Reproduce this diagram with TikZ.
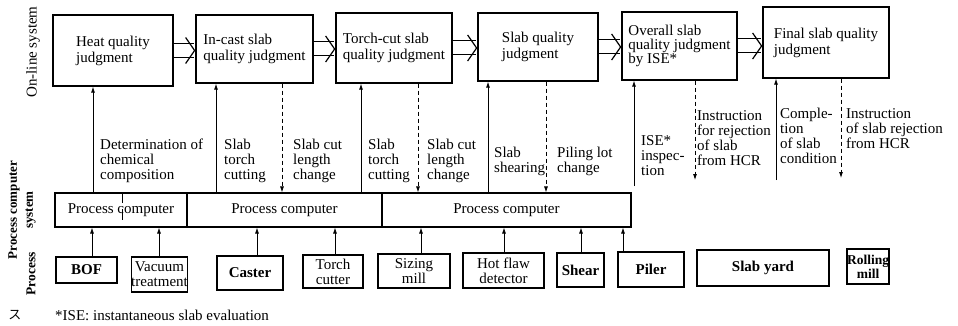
\documentclass[tikz,border=0pt]{standalone}
\usepackage{fontspec}
\setmainfont{Liberation Serif}
\newfontfamily\jpfont{Noto Sans CJK JP}
\usetikzlibrary{arrows.meta}

\begin{document}
\begin{tikzpicture}[x=1pt, y=-1pt, font=\fontsize{15}{15}\selectfont,
  judge/.style={draw, line width=1.3pt, align=left, inner sep=0pt, font=\fontsize{15}{16}\selectfont},
  pc/.style={draw, line width=1.1pt, minimum height=34pt, inner sep=0pt},
  proc/.style={draw, line width=1.2pt, align=center, inner sep=0pt, font=\fontsize{15}{15}\selectfont},
  bproc/.style={proc, font=\bfseries\fontsize{15}{15}\selectfont},
  up/.style={-{Latex[length=6pt,width=4pt]}, line width=0.8pt},
  down/.style={up, dash pattern=on 4pt off 3pt},
  flow/.style={double, double distance=13pt, line width=1pt, -{Straight Barb[length=9pt, width=26pt, line width=1.2pt]}},
  lbl/.style={anchor=north west, align=left, inner sep=0pt}]
  \useasboundingbox (0,0) rectangle (958,326);

  \node[judge, minimum width=120pt, minimum height=71pt] (hq) at (113,50.5) {Heat quality\\judgment};
  \node[judge, minimum width=117pt, minimum height=68pt] (ic) at (254.5,49) {In-cast slab\\quality judgment};
  \node[judge, minimum width=116pt, minimum height=70pt] (tcq) at (394,48) {Torch-cut slab\\quality judgment};
  \node[judge, minimum width=120pt, minimum height=68pt] (sq) at (538,47) {Slab quality\\judgment};
  \node[judge, minimum width=115pt, minimum height=68pt, font=\fontsize{15}{14}\selectfont] (ise) at (679.5,46) {Overall slab\\quality judgment\\by ISE*};
  \node[judge, minimum width=126pt, minimum height=71pt] (fq) at (826,42.5) {Final slab quality\\judgment};

  \foreach \a/\b in {hq/ic, ic/tcq, tcq/sq, sq/ise, ise/fq}
    \draw[flow] (\a.east) -- (\a.east -| \b.west);

  \node[pc, minimum width=132pt] (pc1) at (121,210) {Process computer};
  \node[pc, minimum width=195pt] (pc2) at (284.5,210) {Process computer};
  \node[pc, minimum width=249pt] (pc3) at (506.5,210) {Process computer};
  \draw[line width=0.8pt, dash pattern=on 11pt off 6pt] (pc1.north -| 122,0) -- (pc1.south -| 122,0);

  \node[bproc, minimum width=61pt, minimum height=26pt] (bof) at (86.5,270) {BOF};
  \node[proc, minimum width=55pt, minimum height=35pt] (vac) at (159.5,274.5) {Vacuum\\treatment};
  \node[bproc, minimum width=66pt, minimum height=34pt] (cas) at (250,273) {Caster};
  \node[proc, minimum width=60pt, minimum height=33pt] (tc) at (333,271.5) {Torch\\cutter};
  \node[proc, minimum width=72pt, minimum height=34pt] (sm) at (414,271) {Sizing\\mill};
  \node[proc, minimum width=81pt, minimum height=35pt] (hfd) at (503.5,270.5) {Hot flaw\\detector};
  \node[bproc, minimum width=47pt, minimum height=34pt] (sh) at (580.5,270) {Shear};
  \node[bproc, minimum width=66pt, minimum height=35pt] (pil) at (651,269.5) {Piler};
  \node[bproc, minimum width=132pt, minimum height=36pt] (yard) at (763,268) {Slab yard};
  \node[bproc, font=\bfseries\fontsize{13.5}{14}\selectfont, minimum width=42pt, minimum height=35pt] (rm) at (868,266.5) {Rolling\\mill};

  \foreach \n/\t/\x in {bof/pc1/92, vac/pc1/159, cas/pc2/257, tc/pc2/335, sm/pc3/421, hfd/pc3/504, sh/pc3/581, pil/pc3/623}
    \draw[up] (\n.north -| \x,0) -- (\t.south -| \x,0);

  \draw[up] (pc1.north -| 93,0) -- (hq.south -| 93,0);
  \draw[up] (pc2.north -| 216,0) -- (ic.south -| 216,0);
  \draw[down] (ic.south -| 282,0) -- (pc2.north -| 282,0);
  \draw[up] (pc2.north -| 361,0) -- (tcq.south -| 361,0);
  \draw[down] (tcq.south -| 418,0) -- (pc3.north -| 418,0);
  \draw[up] (pc3.north -| 488,0) -- (sq.south -| 488,0);
  \draw[down] (sq.south -| 546,0) -- (pc3.north -| 546,0);

  \coordinate (isein) at (634,186);
  \coordinate (rejout) at (695,180);
  \coordinate (condin) at (776,180);
  \coordinate (hcrout) at (841,178);
  \draw[up] (isein) -- (ise.south -| isein);
  \draw[down] (ise.south -| rejout) -- (rejout);
  \draw[up] (condin) -- (fq.south -| condin);
  \draw[down] (fq.south -| hcrout) -- (hcrout);

  \node[lbl] (det) at (100,139) {Determination of\\chemical\\composition};
  \node[lbl] (cut1) at (224,139) {Slab\\torch\\cutting};
  \node[lbl] (len1) at (293,139) {Slab cut\\length\\change};
  \node[lbl] (cut2) at (368,139) {Slab\\torch\\cutting};
  \node[lbl] (len2) at (427,139) {Slab cut\\length\\change};
  \node[lbl] (shr) at (494,147) {Slab\\shearing};
  \node[lbl] (lot) at (557,147) {Piling lot\\change};
  \node[lbl] (insp) at (641,135) {ISE*\\inspec-\\tion};
  \node[lbl] (rej) at (697,110) {Instruction\\for rejection\\of slab\\from HCR};
  \node[lbl] (cond) at (780,108) {Comple-\\tion\\of slab\\condition};
  \node[lbl] (hcr) at (846,108) {Instruction\\of slab rejection\\from HCR};

  \node[rotate=90] (online) at (33,52) {On-line system};
  \node[rotate=90, align=center, font=\bfseries\fontsize{13}{16}\selectfont] (pcsys) at (22,210) {Process computer\\system};
  \node[rotate=90, font=\bfseries\fontsize{13.5}{15}\selectfont] (procsys) at (31,274) {Process};
  \node[font=\jpfont\fontsize{13}{15}\selectfont] (kana) at (15,315) {ス};
  \node[anchor=west, inner sep=0pt] (note) at (55,315) {*ISE: instantaneous slab evaluation};
\end{tikzpicture}
\end{document}
